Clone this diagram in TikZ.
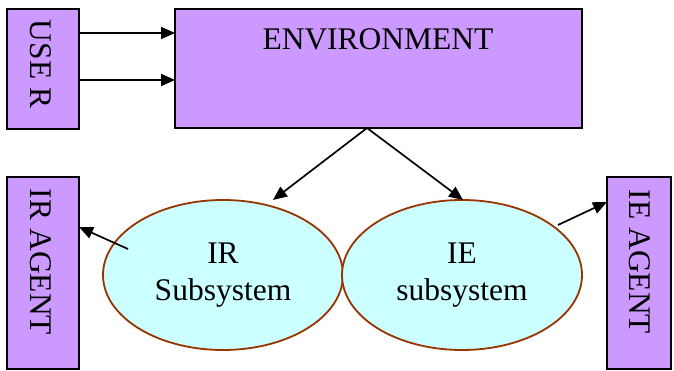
\documentclass[tikz,border=0pt]{standalone}
\usepackage{fontspec}
\setmainfont{Liberation Serif}
\usetikzlibrary{shapes.geometric,arrows.meta}
\definecolor{boxpurple}{HTML}{CC99FF}
\definecolor{ellcyan}{HTML}{CCFFFF}
\definecolor{ellbrown}{HTML}{993300}
\begin{document}
\begin{tikzpicture}[x=1pt,y=-1pt,
  every node/.style={font=\fontsize{31.5}{37}\selectfont},
  pbox/.style={draw=black,line width=1.8pt,fill=boxpurple},
  sub/.style={ellipse,draw=ellbrown,line width=1.8pt,fill=ellcyan,minimum width=240pt,minimum height=150pt,inner sep=0pt,align=center},
  vtext/.style={rotate=-90,inner sep=0pt},
  arr/.style={line width=1.7pt,-{Triangle[length=14pt,width=12pt]}}]
\useasboundingbox (0,0) rectangle (674,371);
\draw[pbox] (7,9) rectangle (79,129);
\draw[pbox] (175,9) rectangle (582,128);
\draw[pbox] (7,177) rectangle (79,369);
\draw[pbox] (607,177) rectangle (671,369);
\node[vtext] (user) at (41,64) {USE R};
\node[vtext] (iragent) at (41,262) {IR AGENT};
\node[vtext] (ieagent) at (640,262) {IE AGENT};
\node[anchor=base,inner sep=0pt] (env) at (378,50) {ENVIRONMENT};
\node[sub] (ir) at (223,275) {IR\\Subsystem};
\node[sub] (ie) at (462,275) {IE\\subsystem};
\coordinate (u1) at (79,33);
\coordinate (u2) at (79,80);
\coordinate (e1) at (175,33);
\coordinate (e2) at (175,80);
\coordinate (eb) at (367,128);
\coordinate (irt) at (273,200);
\coordinate (iet) at (463,200);
\coordinate (irs) at (128,249);
\coordinate (ira) at (79,227);
\coordinate (ies) at (558,225);
\coordinate (iea) at (607,202);
\draw[arr] (u1) -- (e1);
\draw[arr] (u2) -- (e2);
\draw[arr] (eb) -- (irt);
\draw[arr] (eb) -- (iet);
\draw[arr] (irs) -- (ira);
\draw[arr] (ies) -- (iea);
\end{tikzpicture}
\end{document}
